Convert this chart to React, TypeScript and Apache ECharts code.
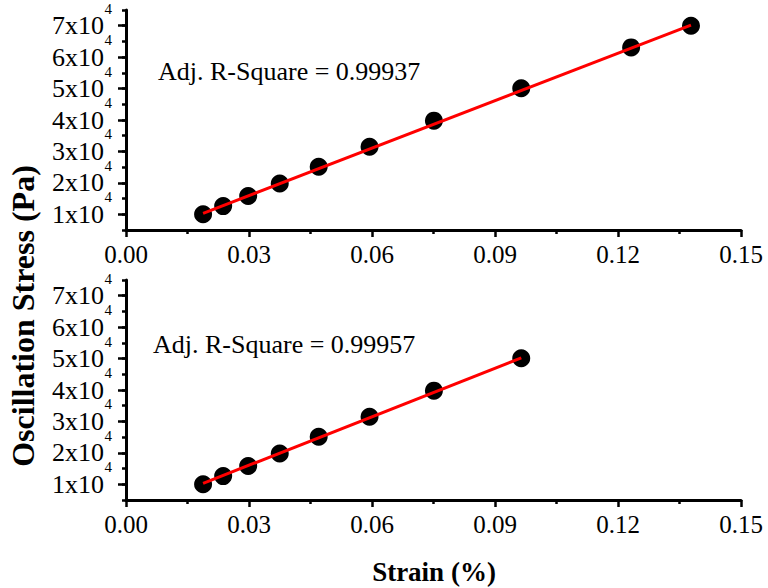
import React, { useEffect, useRef } from "react";
import * as echarts from "echarts";

const strainTop = [0.0188, 0.0237, 0.0298, 0.0375, 0.0470, 0.0594, 0.0751, 0.0964, 0.1232, 0.1378];
const stressTop = [10000, 12600, 15800, 19800, 25100, 31500, 39800, 50100, 63100, 70000];
const strainBottom = [0.0188, 0.0237, 0.0298, 0.0375, 0.0470, 0.0594, 0.0751, 0.0964];
const stressBottom = [10000, 12600, 15800, 19800, 25100, 31500, 39800, 50100];
const fitTopX = [0.0188, 0.1378];
const fitTopY = [10300, 70200];
const fitBottomX = [0.0188, 0.0964];
const fitBottomY = [10300, 50200];
const yMajorTicks = [10000, 20000, 30000, 40000, 50000, 60000, 70000];
const yExponent = "4";
const xTickLabels = ["0.00", "0.03", "0.06", "0.09", "0.12", "0.15"];
const r2Top = "Adj. R-Square = 0.99937";
const r2Bottom = "Adj. R-Square = 0.99957";

const FONT = "Liberation Serif";

const pairs = (xs: number[], ys: number[]) => xs.map((x, i) => [x, ys[i]]);
const isMajor = (v: number) => yMajorTicks.indexOf(Math.round(v)) >= 0;

export default function App() {
  const ref = useRef<HTMLDivElement>(null);
  useEffect(() => {
    if (!ref.current) return;
    const chart = echarts.init(ref.current, null, { renderer: "svg" });
    const grids = [
      { left: 126, top: 10, width: 615, height: 220, containLabel: false, outerBoundsMode: "none" },
      { left: 126, top: 280, width: 615, height: 220, containLabel: false, outerBoundsMode: "none" },
    ];
    const xAxis = [0, 1].map((g) => ({
      type: "value",
      gridIndex: g,
      min: 0,
      max: 0.15,
      interval: 0.03,
      axisLine: { show: true, onZero: false, lineStyle: { color: "#000", width: 3 } },
      axisTick: { show: true, length: 7, lineStyle: { color: "#000", width: 2.5 } },
      minorTick: { show: true, splitNumber: 2, length: 4, lineStyle: { color: "#000", width: 2.5 } },
      splitLine: { show: false },
      axisLabel: {
        fontFamily: FONT,
        fontSize: 25,
        color: "#000",
        margin: 12,
        formatter: (v: number) => xTickLabels[Math.round(v / 0.03)] ?? "",
      },
    }));
    const yAxis: any[] = [];
    [0, 1].forEach((g) => {
      // main axis: line, minor ticks, mantissa labels
      yAxis.push({
        type: "value",
        gridIndex: g,
        position: "left",
        min: 5000,
        max: 75000,
        interval: 5000,
        axisLine: { show: true, onZero: false, lineStyle: { color: "#000", width: 3 } },
        axisTick: { show: true, length: 4, lineStyle: { color: "#000", width: 2.5 } },
        splitLine: { show: false },
        axisLabel: {
          margin: 22,
          color: "#000",
          fontFamily: FONT,
          fontSize: 26,
          hideOverlap: false,
          formatter: (v: number) => (isMajor(v) ? `${Math.round(v / 10000)}x10` : ""),
        },
      });
      // overlay axis: major ticks and superscript exponents
      yAxis.push({
        type: "value",
        gridIndex: g,
        position: "left",
        min: 5000,
        max: 75000,
        interval: 5000,
        axisLine: { show: false },
        axisTick: { show: true, length: 8, customValues: yMajorTicks, lineStyle: { color: "#000", width: 2.5 } },
        splitLine: { show: false },
        axisLabel: {
          margin: 14,
          color: "#000",
          fontFamily: FONT,
          fontSize: 15,
          lineHeight: 34,
          verticalAlign: "bottom",
          hideOverlap: false,
          formatter: (v: number) => (isMajor(v) ? yExponent : ""),
        },
      });
    });
    const scatterStyle = { color: "#000", opacity: 1 };
    const series: any[] = [
      {
        type: "scatter",
        xAxisIndex: 0,
        yAxisIndex: 0,
        data: pairs(strainTop, stressTop),
        symbol: "circle",
        symbolSize: 18,
        itemStyle: scatterStyle,
        z: 2,
      },
      {
        type: "line",
        xAxisIndex: 0,
        yAxisIndex: 0,
        data: pairs(fitTopX, fitTopY),
        showSymbol: false,
        lineStyle: { color: "#ff0000", width: 3 },
        z: 3,
      },
      {
        type: "scatter",
        xAxisIndex: 1,
        yAxisIndex: 2,
        data: pairs(strainBottom, stressBottom),
        symbol: "circle",
        symbolSize: 18,
        itemStyle: scatterStyle,
        z: 2,
      },
      {
        type: "line",
        xAxisIndex: 1,
        yAxisIndex: 2,
        data: pairs(fitBottomX, fitBottomY),
        showSymbol: false,
        lineStyle: { color: "#ff0000", width: 3 },
        z: 3,
      },
    ];
    chart.setOption({
      animation: false,
      backgroundColor: "#fff",
      grid: grids,
      xAxis,
      yAxis,
      series,
      graphic: [
        {
          type: "text",
          left: 158,
          top: 58,
          style: { text: r2Top, fontFamily: FONT, fontSize: 26, fill: "#000" },
        },
        {
          type: "text",
          left: 153,
          top: 331,
          style: { text: r2Bottom, fontFamily: FONT, fontSize: 26, fill: "#000" },
        },
        {
          type: "text",
          x: 23,
          y: 316,
          rotation: Math.PI / 2,
          style: {
            text: "Oscillation Stress (Pa)",
            fontFamily: FONT,
            fontWeight: "bold",
            fontSize: 32,
            fill: "#000",
            textAlign: "center",
            textVerticalAlign: "middle",
          },
        },
        {
          type: "text",
          x: 434,
          y: 572,
          style: {
            text: "Strain (%)",
            fontFamily: FONT,
            fontWeight: "bold",
            fontSize: 27,
            fill: "#000",
            textAlign: "center",
            textVerticalAlign: "middle",
          },
        },
      ],
    });
    return () => chart.dispose();
  }, []);
  return <div ref={ref} style={{ width: 768, height: 588, position: "absolute", left: 0, top: 0 }} />;
}
